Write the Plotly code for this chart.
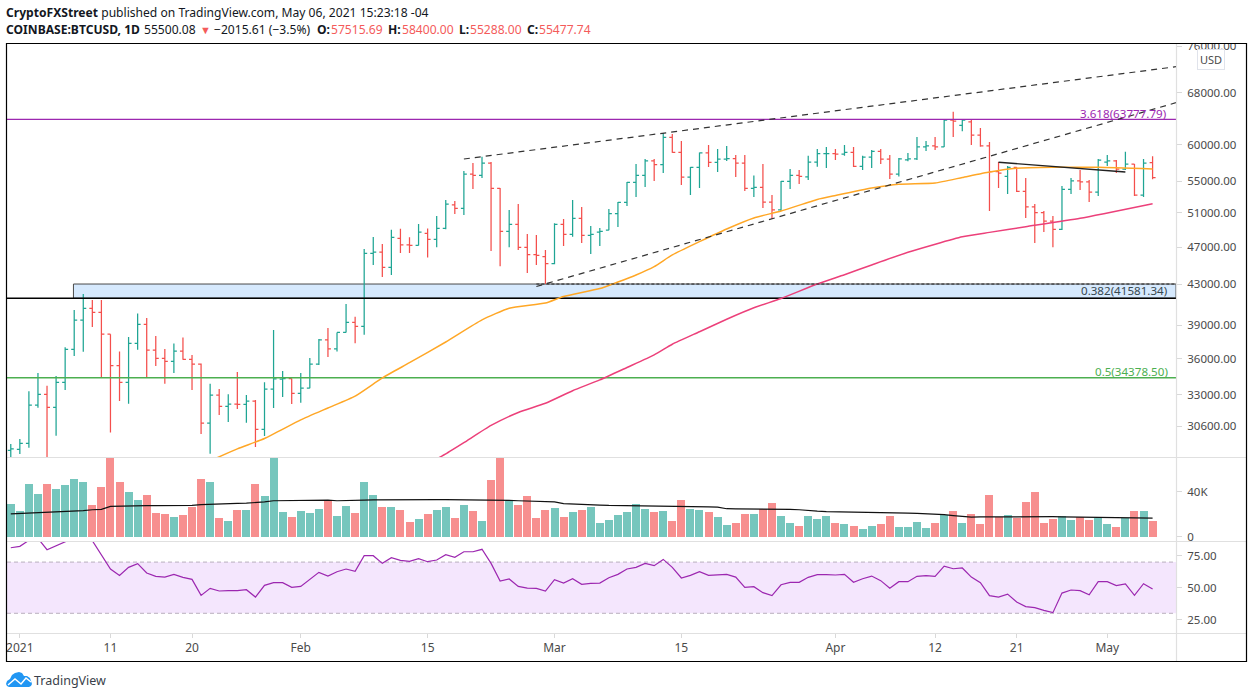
import math
import pandas as pd
import plotly.graph_objects as go

W, H = 1253, 698
FONT = "Noto Sans"

# daily bars, 2020-12-31 to 2021-05-06
opens = [28890,
    28970, 29390, 32190, 33040, 32030, 34000, 36800, 39450, 40590, 40200, 38150, 35400, 34000, 37330, 39070, 36720,
    36020, 35760, 36630, 35930, 35510, 30840, 32970, 32110, 32280, 32250, 32500, 30390, 33450, 34270, 34300,
    33120, 33530, 35510, 37650, 36830, 38320, 39260, 38880, 46300, 46440, 44780, 48000, 47240, 47180,
    48570, 47880, 49160, 51980, 51570, 55950, 55800, 57470, 54090, 48800, 49620, 46970, 46170, 45940,
    45170, 49620, 48450, 50350, 48330, 48700, 48930, 50900, 52300, 54870, 55780, 57750, 57250, 61120, 58940, 55570,
    56880, 58890, 57560, 58000, 58060, 57470, 54090, 54200, 52330, 51360, 55000, 55780, 55600, 57600, 58760,
    58770, 58700, 58940, 57000, 58280, 59100, 58000, 55950, 57890, 58030, 59720, 59860, 59720, 63660, 62900,
    63400, 61450, 59860, 56280, 55650, 56880, 53700, 51730, 51050, 50000, 49040, 53960, 55050, 54920, 53610,
    57600, 57750, 56650, 57330, 53220, 57515.69]
highs = [29340,
    29690, 33290, 34770, 33720, 34530, 36980, 40430, 42000, 41410, 41400, 38160, 36600, 37900, 40100, 39670, 38000,
    36830, 37320, 37860, 36310, 35580, 33880, 33470, 33040, 34860, 32990, 32600, 34000, 38540, 34930, 34310,
    34770, 36040, 37720, 38730, 38320, 41020, 39770, 46780, 48150, 47350, 49000, 49100, 48110, 49650,
    49130, 50620, 52600, 52470, 56380, 57470, 58330, 57610, 54140, 51360, 52100, 48490, 48370, 46670,
    49750, 50270, 52600, 51730, 49420, 49200, 51480, 52340, 54910, 57330, 58030, 58030, 61740, 61600, 60580, 56920,
    58940, 60000, 59430, 59860, 58570, 58570, 55790, 57330, 53220, 55050, 56660, 56520, 58470, 59430, 59720,
    59430, 60000, 59720, 58470, 59290, 59430, 58570, 58170, 58870, 61170, 60580, 61170, 63700, 64960, 63800,
    63700, 62480, 60430, 57610, 57050, 56900, 55440, 52100, 51230, 50620, 54390, 55440, 56520, 55180, 58030,
    58570, 57890, 59020, 57340, 58030, 58400]
lows = [27950,
    28650, 29080, 32000, 27700, 29930, 33390, 36220, 36590, 38820, 34440, 30150, 32520, 32310, 36750, 34360, 35360,
    33880, 34770, 35900, 33390, 30050, 28660, 31450, 30930, 31910, 30860, 29130, 29910, 31980, 32830, 32290,
    32380, 33530, 35440, 36120, 36600, 38300, 37330, 38100, 45030, 43750, 43970, 46330, 46330, 47170,
    45830, 46990, 49040, 50860, 50750, 54000, 55440, 46560, 44900, 46990, 46670, 44170, 45030, 43030,
    45100, 47120, 48180, 47460, 46230, 47120, 48930, 49300, 51860, 52980, 54260, 55050, 56110, 58890, 54510, 53220,
    54140, 56920, 56250, 57750, 55570, 53740, 52980, 51600, 50270, 51230, 54000, 54660, 55180, 56970, 56790,
    57890, 58470, 56920, 56520, 56790, 57330, 55310, 55650, 57700, 57890, 59150, 59290, 59720, 61170, 62000,
    60000, 59760, 51230, 54140, 53350, 53610, 50390, 47460, 48720, 46990, 48960, 53350, 53870, 52340, 53100,
    57060, 56110, 56520, 53100, 52980, 55288]
closes = [28990,
    29390, 32190, 33040, 32030, 34000, 36800, 39450, 40590, 40200, 38150, 35400, 34000, 37330, 39070, 36720, 36020,
    35760, 36630, 35930, 35510, 30840, 32970, 32110, 32280, 32250, 32500, 30390, 33450, 34280, 34300, 33120,
    33530, 35510, 37650, 36830, 38320, 39260, 38880, 46300, 46440, 44780, 48110, 47240, 47180, 48720,
    47880, 49160, 52070, 51570, 55950, 55800, 57470, 54090, 48800, 49620, 46970, 46170, 46060, 45170,
    49620, 48450, 50350, 48330, 48450, 48790, 50900, 52300, 54870, 55780, 57750, 57250, 61120, 58940, 55570, 56880,
    58890, 57560, 58000, 58060, 57470, 54090, 54200, 52330, 51360, 55000, 55780, 55650, 57600, 58770, 58770,
    58700, 58940, 57000, 58280, 59100, 58000, 55950, 58030, 58030, 59720, 59860, 59720, 63660, 63520, 63660,
    61450, 59860, 56280, 56110, 56880, 53700, 51730, 51050, 50000, 49040, 53960, 55050, 54920, 53610, 57850,
    57750, 56650, 57330, 53220, 57440, 55477.74]

# volume in thousands (the spikes run off the top of the pane)
volumes = [29.3,
    23.1, 47.1, 38.2, 47.1, 42.7, 46.2, 51.6, 48.9, 28.4, 44.4, 82, 48.9, 40, 32.9, 37.3, 21.3,
    20.4, 17.8, 19.6, 26.7, 51.6, 48.9, 16.9, 14.2, 24, 24, 47.1, 36.4, 78, 22.2, 17.8,
    23.1, 21.3, 24.9, 32.9, 18.7, 27.6, 21.3, 48.9, 37.3, 26.7, 26.7, 24, 13.3, 16,
    20.4, 24, 26.7, 16.9, 28.4, 23.1, 14.2, 50.7, 80, 32, 28.4, 36.4, 16.9, 24,
    25.8, 17.8, 22.2, 24, 26.7, 12.4, 15.1, 19.6, 22.2, 29.3, 24.9, 22.2, 23.1, 14.2, 32.9, 24.9,
    24, 22.2, 17.8, 10.7, 12.4, 20.4, 20.4, 24.9, 30.2, 18.7, 12.4, 9.8, 18.7, 16, 18.7,
    12.4, 11.6, 9.8, 7.1, 9.8, 11.6, 18.7, 8.9, 8.9, 13.3, 8, 12.4, 19.6, 23.1, 12.4,
    20.4, 11.6, 37.3, 17.8, 19.6, 16.9, 31.1, 40, 12.4, 16, 18.7, 15.1, 17.8, 15.1, 16.9,
    11.6, 8.9, 16.9, 23.1, 23.1, 14.2]
volume_ma = [20.4,
    20.7, 20.9, 21.1, 21.7, 22.1, 22.5, 22.8, 23.2, 24.0, 24.3, 27.0, 27.3, 27.6, 27.6, 27.6, 27.6,
    27.7, 27.7, 27.8, 27.8, 28.6, 29.0, 29.2, 29.4, 29.6, 29.8, 30.2, 31.0, 32.0, 32.2, 32.3,
    32.5, 32.6, 32.6, 32.6, 32.0, 32.0, 32.0, 32.6, 32.8, 32.9, 32.9, 32.9, 32.9, 32.9,
    32.9, 32.9, 32.9, 32.9, 32.6, 32.4, 32.3, 32.4, 32.6, 32.3, 32.0, 31.7, 31.4, 31.1,
    30.9, 29.5, 29.0, 28.7, 28.4, 28.1, 27.8, 27.7, 27.7, 27.8, 27.8, 27.3, 27.0, 27.0, 26.9, 26.8,
    26.7, 26.5, 26.3, 24.9, 24.7, 24.7, 24.6, 24.5, 24.4, 24.3, 24.3, 24.0, 23.2, 22.8, 22.4,
    22.3, 22.2, 22.1, 22.0, 21.9, 21.8, 21.6, 21.3, 21.0, 20.7, 20.4, 20.0, 19.6, 18.8, 18.0,
    17.5, 17.6, 17.7, 17.8, 17.9, 18.0, 18.0, 17.9, 17.8, 17.8, 17.7, 17.6, 17.4, 17.3, 17.2,
    17.0, 16.8, 16.6, 16.6, 16.5, 16.5]
rsi = [81.2,
    82.3, 87, 88.5, 79.7, 82.8, 86, 90, 92, 86.7, 75.5, 64.6, 59.6, 65.9, 68.8, 61.5, 58.9,
    58.3, 60.4, 58.1, 56.5, 44, 49.5, 47.4, 47.7, 47.7, 48.4, 42.7, 51.8, 53.9, 53.9, 50.3,
    51, 56.5, 62, 59.1, 62.5, 64.6, 62.8, 75, 75, 69, 73.4, 71.4, 70.6, 72.7,
    70.3, 71.6, 75.8, 73.7, 78.1, 78.1, 80, 69, 55.2, 56.8, 51, 49.7, 49.5, 47.4,
    56.3, 53.6, 57, 52.6, 53.4, 53.6, 57.8, 60.4, 64.6, 65.9, 69, 67.2, 72.1, 65.9, 57.6, 59.6,
    62.5, 59.6, 60.2, 60.4, 58.3, 50.3, 50.8, 46.1, 43.8, 52.3, 54.2, 54.2, 58.1, 60.2, 60.2,
    59.9, 60.4, 54.2, 57, 59.1, 55.5, 49.5, 54.7, 54.7, 58.9, 59.4, 58.9, 66.9, 64.8, 65.4,
    58.3, 53.9, 43.8, 42.7, 45, 38.8, 35.2, 34.4, 32.3, 30.5, 45.8, 48.2, 47.7, 44.5, 54.7,
    54.7, 51.6, 52.9, 44, 53.1, 49]

ma50_dates = ["2021-01-20", "2021-01-22", "2021-01-25", "2021-01-28", "2021-02-01", "2021-02-04", "2021-02-07",
    "2021-02-10", "2021-02-13", "2021-02-17", "2021-02-21", "2021-02-24", "2021-02-28", "2021-03-02", "2021-03-06",
    "2021-03-08", "2021-03-10", "2021-03-12", "2021-03-14", "2021-03-17", "2021-03-20", "2021-03-23", "2021-03-26",
    "2021-03-30", "2021-04-01", "2021-04-05", "2021-04-08", "2021-04-12", "2021-04-15", "2021-04-18", "2021-04-21",
    "2021-04-25", "2021-04-30", "2021-05-06"]
ma50_values = [27570, 28170, 29000, 29730, 31080, 31980, 32900, 34360, 35640, 37450, 39480, 40600, 41110, 41760, 42560,
    43230, 43960, 44850, 46120, 47610, 49080, 50390, 51230, 52670, 53170, 54130, 54620, 54790, 55510, 56250, 56750,
    56880, 56880, 56650]
ma100_dates = ["2021-02-16", "2021-02-17", "2021-02-19", "2021-02-22", "2021-02-25", "2021-02-28", "2021-03-03",
    "2021-03-06", "2021-03-09", "2021-03-12", "2021-03-14", "2021-03-17", "2021-03-20", "2021-03-23", "2021-03-26",
    "2021-03-30", "2021-04-02", "2021-04-05", "2021-04-09", "2021-04-15", "2021-04-18", "2021-04-22", "2021-04-28",
    "2021-05-06"]
ma100_values = [28310, 28650, 29430, 30670, 31640, 32340, 33330, 34200, 35230, 36310, 37250, 38380, 39540, 40640, 41560,
    43020, 43990, 45030, 46420, 48170, 48680, 49340, 50350, 52140]

fib_3618 = 63777.79
fib_0382 = 41581.34
fib_05 = 34378.50
zone_top = 43020

# drawings on the price pane
x_start, x_end = "2020-12-30 14:00", "2021-05-08 14:00"
upper_line_dates = ["2021-02-19", x_end]
upper_line_values = [58020, 72360]
rising_line_dates = ["2021-02-27", x_end]
rising_line_values = [42770, 66390]
neckline_dates = ["2021-04-19", "2021-05-03"]
neckline_values = [57570, 56250]
zone_start = "2021-01-06 22:00"

price_ticks = [30600, 33000, 36000, 39000, 43000, 47000, 51000, 55000, 60000, 68000, 76000]
date_ticks = ["2021-01-01", "2021-01-11", "2021-01-20", "2021-02-01", "2021-02-15", "2021-03-01", "2021-03-15",
    "2021-04-01", "2021-04-12", "2021-04-21", "2021-05-01"]
date_labels = ["2021", "11", "20", "Feb", "15", "Mar", "15", "Apr", "12", "21", "May"]

dates = pd.date_range("2020-12-31", periods=len(opens))

UP = "#1fa594"
DOWN = "#f44f4c"
vol_colors = ["#76c6bd" if c >= o else "#f78f8f" for o, c in zip(opens, closes)]


def px(x):
    return x / W


def py(y):
    return 1 - y / H


def poly(points):
    return "M " + " L ".join(f"{px(x):.5f},{py(y):.5f}" for x, y in points)


def flat(value):
    return go.Scatter(x=[x_start, x_end], y=[value, value], mode="lines", hoverinfo="skip",
                      line=dict(color="black", width=1.3))


fig = go.Figure()
fig.add_trace(go.Bar(x=dates, y=volumes, marker=dict(color=vol_colors, line_width=0), width=76300000,
                     xaxis="x", yaxis="y2"))
fig.add_trace(go.Scatter(x=dates, y=volume_ma, mode="lines", line=dict(color="#111111", width=1.2), yaxis="y2"))
fig.add_trace(go.Ohlc(x=dates, open=opens, high=highs, low=lows, close=closes, tickwidth=0.33,
                      increasing_line_color=UP, decreasing_line_color=DOWN, line_width=1.25, yaxis="y"))

for value, color in [(fib_3618, "#9c27b0"), (fib_05, "#4caf50")]:
    tr = flat(value)
    tr.line.color = color
    fig.add_trace(tr)
fig.add_trace(flat(fib_0382))

fig.add_trace(go.Scatter(x=ma50_dates, y=ma50_values, mode="lines",
                         line=dict(color="#ffa726", width=1.5, shape="spline", smoothing=0.5)))
fig.add_trace(go.Scatter(x=ma100_dates, y=ma100_values, mode="lines",
                         line=dict(color="#ec407a", width=1.5, shape="spline", smoothing=0.5)))
for xs, ys in [(upper_line_dates, upper_line_values), (rising_line_dates, rising_line_values)]:
    fig.add_trace(go.Scatter(x=xs, y=ys, mode="lines", line=dict(color="#333333", width=1.2, dash="6px,5px")))
fig.add_trace(go.Scatter(x=["2021-02-27", x_end], y=[zone_top, zone_top], mode="lines",
                         line=dict(color="#222222", width=1, dash="3px,2px")))
fig.add_trace(go.Scatter(x=neckline_dates, y=neckline_values, mode="lines", line=dict(color="#222222", width=1.4)))
fig.add_trace(go.Scatter(x=dates, y=rsi, mode="lines", line=dict(color="#9c27b0", width=1.2), yaxis="y3"))

right_axis = dict(side="right", anchor="x", showgrid=False, zeroline=False, showline=False, ticks="outside",
                  ticklen=5, tickcolor="#d9d9d9", ticklabelstandoff=3, automargin=False,
                  tickfont=dict(family=FONT, size=11.5, color="#4a4a4a"))

shapes = [
    # fib zone sits under the bars
    dict(type="rect", xref="x", yref="y", x0=zone_start, x1=x_end, y0=fib_0382, y1=zone_top,
         fillcolor="#d6e9fd", line=dict(color="#4a4a4a", width=1), layer="below"),
    # RSI band
    dict(type="rect", xref="paper", yref="y3", x0=px(7), x1=px(1176), y0=30, y1=70,
         fillcolor="#f4e6fd", line_width=0, layer="below"),
]
for level in (30, 70):
    shapes.append(dict(type="line", xref="paper", yref="y3", x0=px(7), x1=px(1176), y0=level, y1=level,
                       line=dict(color="#b8aebd", width=1, dash="4px,3px"), layer="below"))
# pane separators and right scale edge
for y in (457.5, 541.5, 633.5):
    shapes.append(dict(type="line", xref="paper", yref="paper", x0=px(7), x1=px(1246), y0=py(y), y1=py(y),
                       line=dict(color="#e0e0e0", width=1.2), layer="above"))
shapes.append(dict(type="line", xref="paper", yref="paper", x0=px(1176.5), x1=px(1176.5), y0=py(44), y1=py(661),
                   line=dict(color="#e0e0e0", width=1.2), layer="above"))
# hide the part of the top scale label that falls outside the frame
shapes.append(dict(type="rect", xref="paper", yref="paper", x0=px(1177), x1=px(1246), y0=py(30), y1=py(43.5),
                   fillcolor="white", line_width=0, layer="above"))
shapes.append(dict(type="rect", xref="paper", yref="paper", x0=px(6.5), x1=px(1246.5), y0=py(661.5), y1=py(43.5),
                   line=dict(color="black", width=1.2), layer="above"))
# logo
shapes.append(dict(type="path", xref="paper", yref="paper", layer="above", line_width=0, fillcolor="#2196f3",
                   path=poly([(6, 684), (7, 681), (10, 679), (12, 675), (15, 673), (19, 672), (22, 673), (24, 676),
                              (27, 676), (30, 678), (31, 681), (32, 684), (31, 686), (29, 687), (9, 687),
                              (7, 686)]) + " Z"))
shapes.append(dict(type="path", xref="paper", yref="paper", layer="above", line=dict(color="white", width=1.5),
                   path=poly([(8, 685), (15, 679), (21, 684), (26, 678), (31, 682)])))


def label(x, y, text, size=12.1, color="#131722", anchor="left"):
    return dict(xref="paper", yref="paper", x=px(x), y=py(y), text=text, showarrow=False, xanchor=anchor,
                yanchor="middle", font=dict(family=FONT, size=size, color=color), borderpad=0, borderwidth=0)


red = "#f45b5b"
annotations = [
    label(6, 12.5, "<b>CryptoFXStreet</b> published on TradingView.com, May 06, 2021 15:23:18 -04"),
    label(6, 29, "<b>COINBASE:BTCUSD, 1D</b>"),
    label(144, 29, "55500.08"),
    label(200, 29, "▼", size=11, color=red),
    label(214, 29, "−2015.61 (−3.5%)"),
    label(317, 29, "<b>O:</b>"),
    label(331, 29, "57515.69", color=red),
    label(388, 29, "<b>H:</b>"),
    label(402, 29, "58400.00", color=red),
    label(459, 29, "<b>L:</b>"),
    label(470, 29, "55288.00", color=red),
    label(527, 29, "<b>C:</b>"),
    label(539, 29, "55477.74", color=red),
    label(1167, 113, "3.618(63777.79)", size=11.6, color="#9c27b0", anchor="right"),
    label(1168, 291, "0.382(41581.34)", size=11.6, color="#37474f", anchor="right"),
    label(1168, 371, "0.5(34378.50)", size=11.6, color="#4caf50", anchor="right"),
    label(34, 680, "TradingView", size=12.5, color="#3a3f4a"),
    dict(xref="paper", yref="paper", x=px(1211), y=py(59.5), text="USD", showarrow=False, xanchor="center",
         yanchor="middle", font=dict(family=FONT, size=11, color="#4a4a4a"), bgcolor="white",
         bordercolor="#e0e3eb", borderwidth=1, borderpad=2),
]

fig.update_layout(
    width=W, height=H, margin=dict(l=0, r=0, t=0, b=0), autosize=False,
    paper_bgcolor="white", plot_bgcolor="white", showlegend=False, bargap=0,
    hovermode=False,
    xaxis=dict(domain=[px(7), px(1176)], type="date", range=[x_start, x_end], anchor="y3", showgrid=False,
               zeroline=False, tickmode="array", tickvals=date_ticks, ticktext=date_labels, ticks="outside",
               ticklen=4, tickcolor="#d9d9d9", rangeslider=dict(visible=False), automargin=False,
               tickfont=dict(family=FONT, size=12, color="#4a4a4a")),
    yaxis=dict(right_axis, domain=[py(457), py(44)], type="log", range=[math.log10(28440), math.log10(76400)],
               tickmode="array", tickvals=price_ticks, ticktext=[f"{v}.00" for v in price_ticks]),
    yaxis2=dict(right_axis, domain=[py(541), py(458)], range=[-3.8, 70], tickmode="array", tickvals=[0, 40],
                ticktext=["0", "40K"]),
    yaxis3=dict(right_axis, domain=[py(633), py(542)], range=[14.6, 85.7], tickmode="array", tickvals=[25, 50, 75],
                ticktext=["25.00", "50.00", "75.00"]),
    shapes=shapes, annotations=annotations,
)

fig.write_html("out.html", config=dict(displayModeBar=False), post_script="document.body.style.margin='0';")
